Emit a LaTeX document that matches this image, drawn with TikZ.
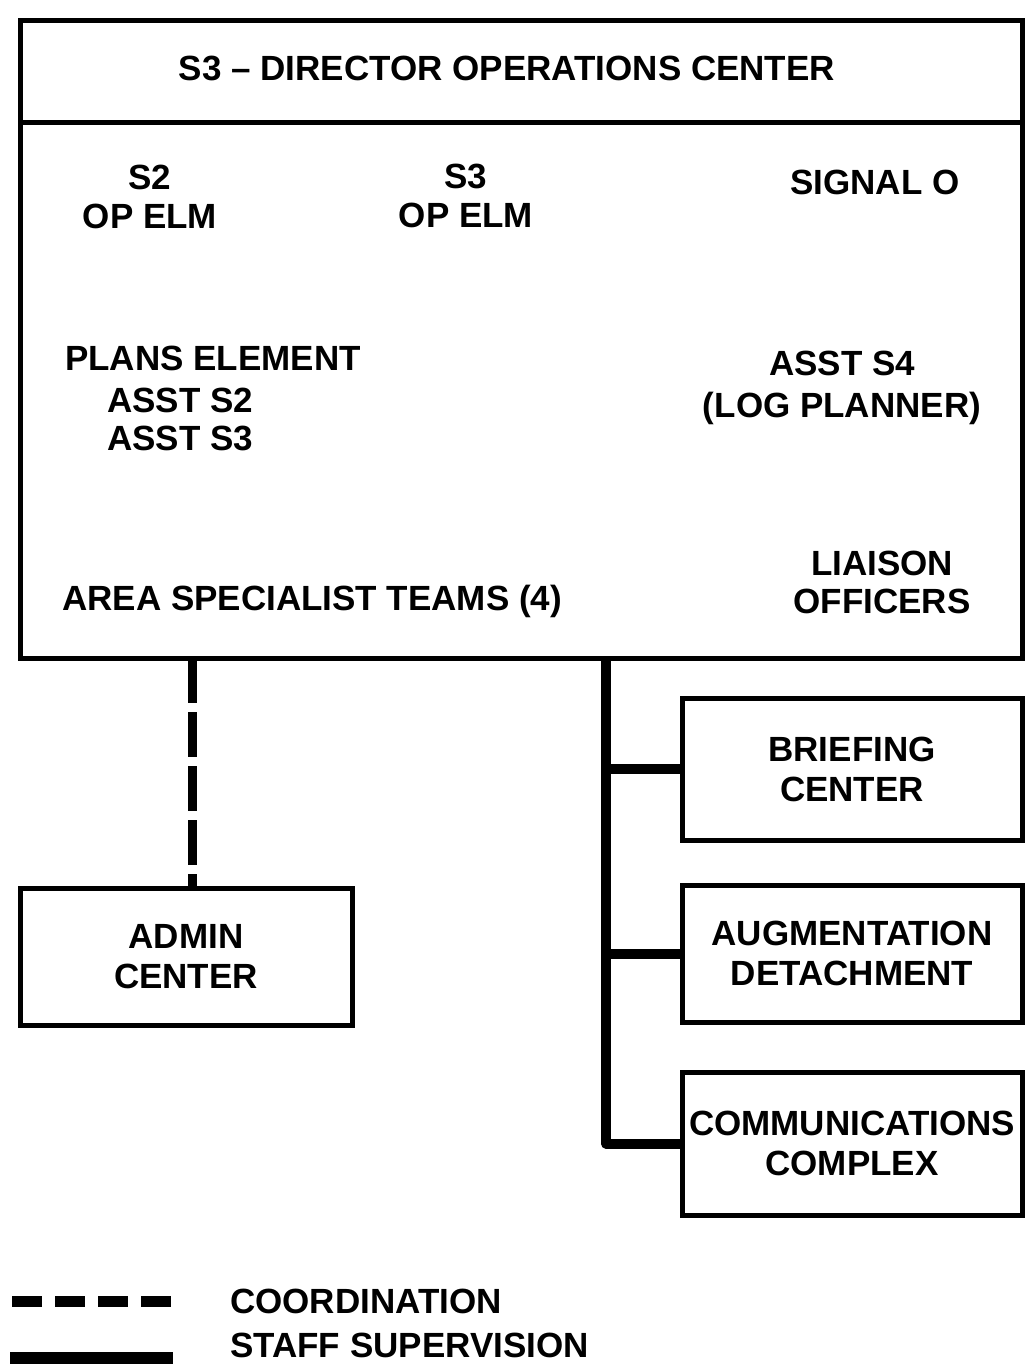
\documentclass[tikz,border=0pt]{standalone}
\usepackage{fontspec}
\setmainfont{Liberation Sans}
\begin{document}
\begin{tikzpicture}[x=1pt,y=-1pt,
  txt/.style={inner sep=0pt,font=\bfseries\fontsize{35}{39}\selectfont,align=center},
  boxline/.style={draw=black,line width=5pt},
  unitbox/.style={boxline,rectangle,inner sep=0pt,font=\bfseries\fontsize{35}{40}\selectfont,align=center},
  staffline/.style={line width=10pt,line join=round},
  coordline/.style={line width=9pt,dash pattern=on 45pt off 9pt},
  legdash/.style={line width=11pt,dash pattern=on 30pt off 13pt},
  legsolid/.style={line width=12pt}]
\useasboundingbox (0,0) rectangle (1025,1365);
% main box
\node[unitbox,minimum width=1002pt,minimum height=102pt] (header) at (521,71) {};
\node[unitbox,minimum width=1002pt,minimum height=536pt] (body) at (521,390) {};
\node[txt,anchor=base] (title) at (507,80.5) {S3 -- DIRECTOR OPERATIONS CENTER};
% body texts
\node[txt] (s2) at (150,196.5) {S2\\OP ELM};
\node[txt] (s3) at (466,195.5) {S3\\OP ELM};
\node[txt,anchor=base] (sig) at (875,194.5) {SIGNAL O};
\node[txt,anchor=base west] (plans) at (65,370.5) {PLANS ELEMENT};
\node[txt,anchor=base west] (as2) at (107,412.5) {ASST S2};
\node[txt,anchor=base west] (as3) at (107,450.5) {ASST S3};
\node[txt,font=\bfseries\fontsize{35}{42}\selectfont] (s4) at (842,388) {ASST S4\\(LOG PLANNER)};
\node[txt,font=\bfseries\fontsize{35}{38}\selectfont] (lo) at (882,582) {LIAISON\\OFFICERS};
\node[txt,anchor=base west] (area) at (62,610.5) {AREA SPECIALIST TEAMS (4)};
% subordinate boxes
\node[unitbox,minimum width=332pt,minimum height=137pt] (admin) at (186,956.5) {ADMIN\\CENTER};
\node[unitbox,minimum width=340pt,minimum height=142pt] (brief) at (852,769) {BRIEFING\\CENTER};
\node[unitbox,minimum width=340pt,minimum height=137pt] (aug) at (852,953.5) {AUGMENTATION\\DETACHMENT};
\node[unitbox,minimum width=340pt,minimum height=143pt] (comm) at (852,1143.5) {COMMUNICATIONS\\COMPLEX};
% connectors
\coordinate (trunk) at (606,658);
\coordinate (dtop) at (192,658);
\draw[coordline] (dtop) -- (dtop |- admin.north);
\draw[staffline] (trunk) |- (comm.west);
\draw[staffline] (brief.west -| trunk) -- (brief.west);
\draw[staffline] (aug.west -| trunk) -- (aug.west);
% legend
\coordinate (l1a) at (12,1301);
\coordinate (l1b) at (171,1301);
\coordinate (l2a) at (10,1358);
\coordinate (l2b) at (173,1358);
\draw[legdash] (l1a) -- (l1b);
\draw[legsolid] (l2a) -- (l2b);
\node[txt,anchor=base west] (lg1) at (230,1313) {COORDINATION};
\node[txt,anchor=base west] (lg2) at (230,1357) {STAFF SUPERVISION};
\end{tikzpicture}
\end{document}
